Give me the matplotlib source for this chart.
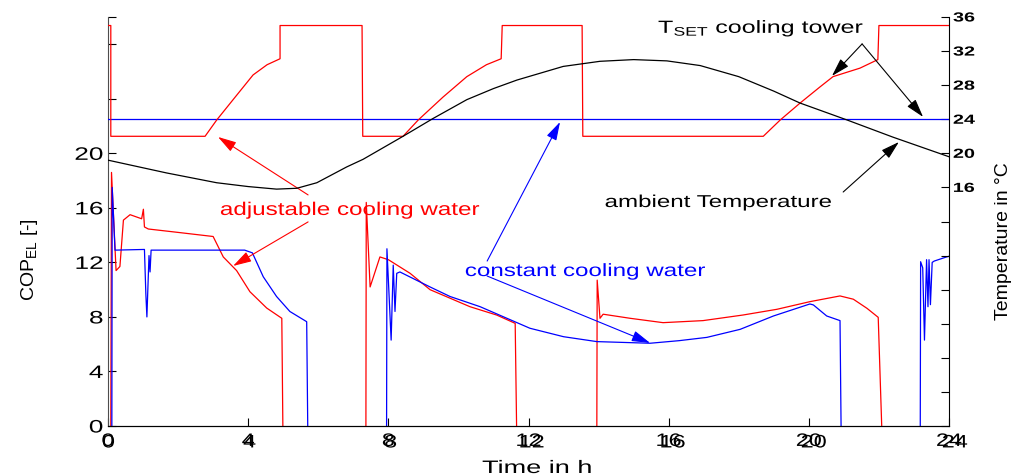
import numpy as np
import matplotlib
matplotlib.use('Agg')
import matplotlib.pyplot as plt
from matplotlib.patheffects import AbstractPathEffect
from matplotlib.transforms import Affine2D

plt.rcParams['font.family'] = ['Liberation Sans', 'DejaVu Sans']
plt.rcParams['mathtext.fontset'] = 'custom'
plt.rcParams['mathtext.rm'] = 'Liberation Sans'
plt.rcParams['mathtext.it'] = 'Liberation Sans:italic'
plt.rcParams['mathtext.bf'] = 'Liberation Sans:bold'
plt.rcParams['mathtext.default'] = 'regular'

# time axis (h)
hours = [0, 4, 8, 12, 16, 20, 24]
hour_labels = ['0', '4', '8', '12', '16', '20', '24']

# set point temperature of the cooling tower, adjustable cooling water (degC)
tset_adj_t = [0, 0.08, 0.08, 2.77, 3.10, 3.57, 4.14, 4.54, 4.91, 4.91, 7.25, 7.27, 8.42, 8.85,
              9.56, 10.24, 10.80, 11.22, 11.25, 13.53, 13.55, 18.70, 19.18, 19.75, 20.32, 20.69,
              21.46, 21.97, 22.0, 24]
tset_adj_v = [35, 35, 22, 22, 23.9, 26.3, 29.2, 30.4, 31.1, 35, 35, 22, 22, 23.9,
              26.6, 29.0, 30.4, 31.1, 35, 35, 22, 22, 23.9, 25.9, 27.8, 29.0,
              30.0, 31.0, 35, 35]

# set point temperature, constant cooling water (degC)
tset_const_t = [0, 24]
tset_const_v = [24, 24]

# ambient temperature (degC)
amb_t = [0, 1.67, 3.1, 4.0, 4.81, 5.39, 5.96, 6.81, 7.28, 8.42, 9.28, 10.24, 11.0, 11.67, 12.99,
         14.04, 15.0, 15.95, 16.9, 18.0, 19.0, 19.75, 21.1, 22.4, 24]
amb_v = [19.2, 17.7, 16.55, 16.1, 15.8, 15.9, 16.55, 18.4, 19.3, 22.0, 24.1, 26.3, 27.6, 28.6, 30.2,
         30.8, 31.0, 30.85, 30.3, 29.0, 27.3, 25.9, 23.9, 21.9, 19.6]

# COP_EL adjustable cooling water
cop_adj_t = [0.08, 0.10, 0.23, 0.34, 0.44, 0.63, 0.96, 1.01, 1.04, 1.15, 2.0, 3.0, 3.29, 3.67,
             4.05, 4.53, 4.96, 4.99, np.nan,
             7.36, 7.37, 7.48, 7.76, 8.0, 8.62, 9.19, 10.33, 11.09, 11.62, 11.66, np.nan,
             13.95, 13.96, 14.04, 14.13, 14.9, 15.84, 16.98, 18.12, 19.09, 20.03, 20.89,
             21.27, 21.66, 21.98, 22.08]
cop_adj_v = [0, 18.6, 11.4, 11.7, 15.1, 15.5, 15.2, 15.9, 14.6, 14.45, 14.2, 13.9, 12.4, 11.4,
             9.85, 8.65, 7.9, 0, np.nan,
             0, 16.4, 10.2, 12.4, 12.2, 11.2, 10.0, 8.75, 8.14, 7.53, 0, np.nan,
             0, 10.7, 7.9, 8.2, 7.9, 7.58, 7.73, 8.14, 8.56, 9.12, 9.54,
             9.3, 8.63, 7.97, 0]

# COP_EL constant cooling water
cop_const_t = [0.11, 0.12, 0.20, 1.04, 1.08, 1.11, 1.17, 1.20, 1.23, 1.3, 3.9, 4.12, 4.43, 4.81,
               5.19, 5.67, 5.70, np.nan,
               7.95, 7.96, 8.08, 8.14, 8.19, 8.24, 8.33, 9.19, 9.76, 10.62, 12.04, 13.0, 13.95,
               15.47, 16.3, 17.09, 18.04, 18.99, 20.03, 20.13, 20.51, 20.89, 20.92, np.nan,
               23.18, 23.19, 23.25, 23.30, 23.36, 23.40, 23.43, 23.47, 23.52, 23.58, 23.93, 24.0]
cop_const_v = [0, 17.5, 12.9, 12.95, 9.7, 8.0, 12.5, 11.3, 12.9, 12.9, 12.9, 12.7, 10.95, 9.5,
               8.4, 7.65, 0, np.nan,
               0, 13.0, 6.3, 11.8, 8.4, 11.2, 11.3, 10.2, 9.5, 8.75, 7.17, 6.55, 6.19,
               6.07, 6.26, 6.5, 7.09, 8.07, 8.95, 8.88, 8.07, 7.73, 0, np.nan,
               0, 12.05, 11.6, 6.3, 12.2, 8.75, 12.2, 8.9, 12.0, 12.1, 12.4, 12.45]


class Stretch(AbstractPathEffect):
    # widen glyphs (the original picture is stretched sideways);
    # ghost=(dx, dy) draws a second copy shifted by that many pixels
    def __init__(self, sx=1.0, sy=1.0, anchor=0.5, ghost=None):
        super().__init__()
        self.sx, self.sy, self.anchor, self.ghost = sx, sy, anchor, ghost

    def draw_path(self, renderer, gc, tpath, affine, rgbFace=None):
        ext = tpath.get_extents()
        x0 = ext.x0 + self.anchor * ext.width
        pre = Affine2D().translate(-x0, 0).scale(self.sx, self.sy).translate(x0, 0)
        renderer.draw_path(gc, tpath, pre + affine, rgbFace)
        if self.ghost is not None:
            shift = Affine2D().translate(*self.ghost)
            renderer.draw_path(gc, tpath, pre + affine + shift, rgbFace)


W, H = 1014, 475
fig = plt.figure(figsize=(W / 100, H / 100), dpi=100)
ax = fig.add_axes([108 / W, 1 - 426 / H, 841 / W, 409 / H])
ax2 = ax.twinx()

ax.plot(cop_adj_t, cop_adj_v, color='#ff0000', lw=0.9)
ax.plot(cop_const_t, cop_const_v, color='#0000ff', lw=0.9)
ax2.plot(tset_const_t, tset_const_v, color='#0000ff', lw=0.9)
ax2.plot(tset_adj_t, tset_adj_v, color='#ff0000', lw=0.9)
ax2.plot(amb_t, amb_v, color='black', lw=0.9)

ax.set_xlim(0, 24)
ax.set_ylim(0, 30)
ax2.set_ylim(-12, 36)

left_ticks = list(range(0, 29, 4)) + [30]
right_ticks = list(range(-12, 37, 4))
ax.set_xticks(hours)
ax.set_xticklabels(hour_labels)
ax.set_yticks(left_ticks)
ax.set_yticklabels([str(v) if v <= 20 else '' for v in left_ticks])
ax2.set_yticks(right_ticks)
ax2.set_yticklabels([str(v) if v >= 16 else '' for v in right_ticks])

ax.tick_params(axis='x', direction='in', length=6, width=0.8, pad=5, labelsize=13)
ax.tick_params(axis='y', direction='in', length=6, width=0.8, pad=3.5, labelsize=13)
ax2.tick_params(axis='y', direction='in', length=6, width=0.8, pad=3, labelsize=9.5)

for a in (ax, ax2):
    a.spines['top'].set_visible(False)
ax.spines['left'].set_color('0.3')
ax2.spines['left'].set_visible(False)
ax.spines['right'].set_visible(False)

# hour labels appear twice, slightly shifted, in the original
for h, lab in zip(hours, ax.get_xticklabels()):
    lab.set_path_effects([Stretch(1.3, 1.0, 0.5, ghost=(0.5 + 0.22 * h, -1.5))])
for lab in ax.get_yticklabels():
    lab.set_path_effects([Stretch(1.45, 1.0, 1.0)])
for lab in ax2.get_yticklabels():
    lab.set_fontweight('bold')
    lab.set_path_effects([Stretch(1.5, 1.0, 0.0)])

fig.text(537 / W, 1 - 473 / H, 'Time in h', ha='center', va='baseline', fontsize=13,
         path_effects=[Stretch(1.5, 1.0, 0.5)])
fig.text(29 / W, 1 - 260 / H, 'COP$_{EL}$ [-]', rotation=90, ha='center', va='center',
         fontsize=14)
fig.text(1003 / W, 1 - 241 / H, 'Temperature in °C', rotation=90, ha='center',
         va='center', fontsize=14)

arrow_kw = dict(arrowstyle='-|>,head_length=0.75,head_width=0.22', lw=0.8,
                mutation_scale=15, shrinkA=0, shrinkB=0)

ax2.text(15.70, 34.13, 'T$_{SET}$ cooling tower', fontsize=12.7, color='black',
         ha='left', va='baseline', path_effects=[Stretch(1.42, 1.0, 0.0)])
ax2.annotate('', xy=(20.66, 29.08), xytext=(21.52, 32.84),
             arrowprops=dict(color='black', **arrow_kw))
ax2.annotate('', xy=(23.26, 24.27), xytext=(21.52, 32.84),
             arrowprops=dict(color='black', **arrow_kw))

ax2.text(14.18, 13.70, 'ambient Temperature', fontsize=12.4, color='black',
         ha='left', va='baseline', path_effects=[Stretch(1.4, 1.0, 0.0)])
ax2.annotate('', xy=(22.57, 21.33), xytext=(20.98, 15.46),
             arrowprops=dict(color='black', **arrow_kw))

ax.text(3.20, 15.48, 'adjustable cooling water', fontsize=13.2, color='#ff0000',
        ha='left', va='baseline', path_effects=[Stretch(1.32, 1.0, 0.0)])
ax.annotate('', xy=(3.14, 21.2), xytext=(5.71, 16.95),
            arrowprops=dict(color='#ff0000', **arrow_kw))
ax.annotate('', xy=(3.57, 11.74), xytext=(5.71, 14.97),
            arrowprops=dict(color='#ff0000', **arrow_kw))

ax.text(10.19, 11.0, 'constant cooling water', fontsize=12.8, color='#0000ff',
        ha='left', va='baseline', path_effects=[Stretch(1.36, 1.0, 0.0)])
ax.annotate('', xy=(12.90, 22.3), xytext=(10.82, 12.1),
            arrowprops=dict(color='#0000ff', **arrow_kw))
ax.annotate('', xy=(15.47, 6.09), xytext=(10.82, 11.0),
            arrowprops=dict(color='#0000ff', **arrow_kw))

fig.savefig('out.png', dpi=100)
